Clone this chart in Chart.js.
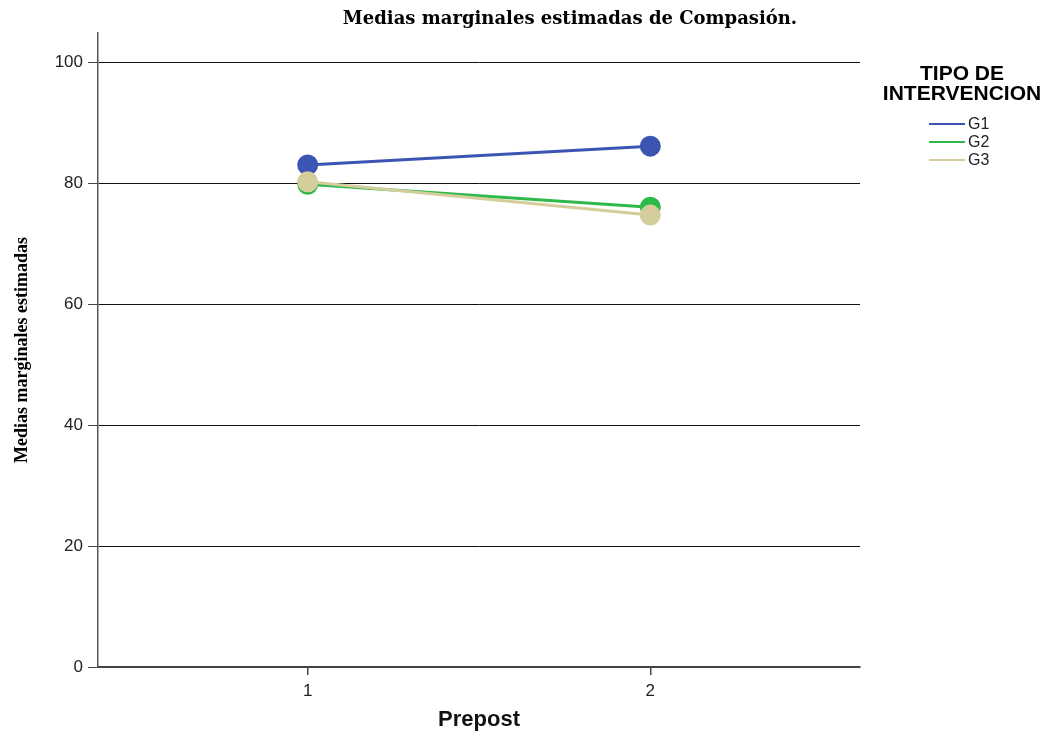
<!DOCTYPE html>
<html>
<head>
<meta charset="utf-8">
<script src="https://cdn.jsdelivr.net/npm/chart.js@4.4.1/dist/chart.umd.min.js"></script>
<style>
  html, body { margin: 0; padding: 0; background: #fff; }
  #wrap { width: 1055px; height: 733px; }
</style>
</head>
<body>
<div id="wrap"><canvas id="chart"></canvas></div>
<script>
// datos
const prepost = [1, 2];
const g1 = [83.0, 86.1];
const g2 = [79.8, 76.0];
const g3 = [80.2, 74.7];
const yTicks = [0, 20, 40, 60, 80, 100];
const grupos = ['G1', 'G2', 'G3'];
const colores = ['#3c55b2', '#2eb94a', '#d5cd9c'];

const titulo = 'Medias marginales estimadas de Compasión.';
const tituloLeyenda = ['TIPO DE', 'INTERVENCION'];

function puntos(vals) {
    return prepost.map((x, i) => ({ x: x, y: vals[i] }));
}

// titulo y leyenda dibujados a mano, como en SPSS
const extras = {
    id: 'extras',
    afterDraw(chart) {
        const ctx = chart.ctx;
        ctx.save();
        ctx.fillStyle = '#000';
        ctx.textBaseline = 'middle';
        ctx.textAlign = 'center';
        ctx.font = 'bold 18px "DejaVu Serif"';
        ctx.fillText(titulo, 570, 19);

        ctx.font = 'bold 21px "Liberation Sans"';
        ctx.fillText(tituloLeyenda[0], 962, 74);
        ctx.fillText(tituloLeyenda[1], 962, 94);

        ctx.textAlign = 'left';
        ctx.font = '16px "Liberation Sans"';
        grupos.forEach((g, i) => {
            const y = 124 + i * 18;
            ctx.strokeStyle = colores[i];
            ctx.lineWidth = 2;
            ctx.beginPath();
            ctx.moveTo(929, y);
            ctx.lineTo(965, y);
            ctx.stroke();
            ctx.fillStyle = '#222';
            ctx.fillText(g, 968, y + 1);
        });
        ctx.restore();
    }
};

const ctx = document.getElementById('chart').getContext('2d');
const chart = new Chart(ctx, {
    type: 'line',
    data: {
        datasets: [
            { label: 'G1', data: puntos(g1), order: 3 },
            { label: 'G2', data: puntos(g2), order: 2 },
            { label: 'G3', data: puntos(g3), order: 1 }
        ].map((d, i) => Object.assign(d, {
            borderColor: colores[i],
            backgroundColor: colores[i],
            pointBackgroundColor: colores[i],
            pointBorderColor: colores[i],
            borderWidth: 3,
            pointRadius: 9,
            pointHoverRadius: 9,
            tension: 0,
            fill: false
        }))
    },
    options: {
        responsive: true,
        maintainAspectRatio: false,
        animation: false,
        layout: { padding: { top: 33, right: 195, left: 0, bottom: 0 } },
        plugins: {
            legend: { display: false },
            tooltip: { enabled: false }
        },
        scales: {
            x: {
                type: 'linear',
                min: 0.388,
                max: 2.612,
                afterBuildTicks: s => { s.ticks = prepost.map(v => ({ value: v })); },
                afterFit: s => { s.height = 66; },
                grid: { drawOnChartArea: false, drawTicks: true, tickLength: 8, color: '#444', lineWidth: 1.5 },
                border: { display: true, color: '#444', width: 2 },
                ticks: { color: '#222', padding: 6, font: { family: 'Liberation Sans', size: 17 } },
                title: {
                    display: true,
                    text: 'Prepost',
                    color: '#111',
                    padding: { top: 8, bottom: 0 },
                    font: { family: 'Liberation Sans', size: 22, weight: 'bold' }
                }
            },
            y: {
                min: 0,
                max: 104.8,
                afterBuildTicks: s => { s.ticks = yTicks.map(v => ({ value: v })); },
                afterFit: s => { s.width = 98; },
                grid: { color: '#111', lineWidth: 1, tickLength: 10, tickColor: '#444' },
                border: { display: true, color: '#555', width: 1.5 },
                ticks: { color: '#222', padding: 5, font: { family: 'Liberation Sans', size: 17 } },
                title: {
                    display: true,
                    text: 'Medias marginales estimadas',
                    color: '#000',
                    padding: { top: 12, bottom: 0 },
                    font: { family: 'Liberation Serif', size: 18, weight: 'bold' }
                }
            }
        }
    },
    plugins: [extras]
});
</script>
</body>
</html>
